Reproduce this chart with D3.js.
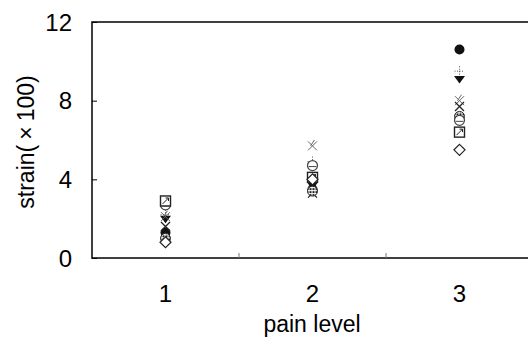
<!DOCTYPE html>
<html><head><meta charset="utf-8">
<script src="https://cdn.jsdelivr.net/npm/d3@7"></script>
<style>body{margin:0;background:#fff}svg{display:block}text{font-family:"Liberation Sans",Arial,sans-serif}</style>
</head><body><svg id="c" width="528" height="338"></svg>
<script>
const levels = ["1","2","3"];
const yTicks = [0,4,8,12];
const sFilledCircle = [1.3, 3.5, 10.6];
const sDotPlus      = [2.2, 4.9, 9.5];
const sTriDown      = [2.0, 3.7, 9.1];
const sCrossLight   = [2.1, 5.7, 8.0];
const sCrossDark    = [1.6, 3.3, 7.7];
const sHatchCircle  = [1.0, 3.4, 7.2];
const sOpenCircle   = [2.7, 4.7, 7.0];
const sSquareDiag   = [2.9, 4.1, 6.4];
const sDiamond      = [0.8, 4.0, 5.5];
const series = [
  {v:sFilledCircle, m:"fcircle"},
  {v:sDotPlus, m:"dotplus"},
  {v:sTriDown, m:"tridown"},
  {v:sCrossLight, m:"xlight"},
  {v:sCrossDark, m:"xdark"},
  {v:sHatchCircle, m:"hcircle"},
  {v:sOpenCircle, m:"ocircle"},
  {v:sSquareDiag, m:"sqx"},
  {v:sDiamond, m:"diamond"}
];
const svg = d3.select("#c");
const L=92, T=22, R=533, B=258;
const x = d3.scaleBand().domain(levels).range([L,R]);
const y = d3.scaleLinear().domain([0,12]).range([B,T]);
const defs = svg.append("defs");
const pat = defs.append("pattern").attr("id","hatch").attr("width",3).attr("height",3).attr("patternUnits","userSpaceOnUse");
pat.append("rect").attr("width",3).attr("height",3).attr("fill","#fff");
pat.append("rect").attr("width",2).attr("height",2).attr("fill","#222");

svg.append("rect").attr("x",L).attr("y",T).attr("width",R-L).attr("height",B-T).attr("fill","none").attr("stroke","#000").attr("stroke-width",1.5);
svg.append("g").attr("transform",`translate(${L},0)`).call(d3.axisRight(y).tickValues(yTicks).tickSize(5).tickFormat(""))
  .call(g=>g.select(".domain").remove()).selectAll("line").attr("stroke","#000");
yTicks.forEach(t=>svg.append("text").attr("x",72).attr("y",y(t)).attr("dy","0.36em").attr("text-anchor","end").attr("font-size",24).text(t));
[levels[1],levels[2]].forEach(l=>svg.append("line").attr("x1",x(l)).attr("x2",x(l)).attr("y1",B).attr("y2",B-5).attr("stroke","#777"));
levels.forEach(l=>svg.append("text").attr("x",x(l)+x.bandwidth()/2).attr("y",302).attr("text-anchor","middle").attr("font-size",24).text(l));
svg.append("text").attr("x",312).attr("y",332).attr("text-anchor","middle").attr("font-size",23).text("pain level");
const yl = svg.append("text").attr("transform","translate(34,142) rotate(-90)").attr("text-anchor","middle").attr("font-size",23);
yl.append("tspan").text("strain(");
yl.append("tspan").attr("dx",5).text("\u00d7");
yl.append("tspan").attr("dx",5).text("100)");

function draw(g, m){
  const r=5;
  if(m==="fcircle") g.append("circle").attr("r",r).attr("fill","#111");
  else if(m==="hcircle") g.append("circle").attr("r",r).attr("fill","url(#hatch)").attr("stroke","#333");
  else if(m==="ocircle"){ g.append("circle").attr("r",r).attr("fill","#fff").attr("stroke","#444").attr("stroke-width",1.2); g.append("path").attr("d","M-4,1 L4,1").attr("stroke","#444");}
  else if(m==="tridown") g.append("path").attr("d","M-5.5,-3 L5.5,-3 L0,4.5 Z").attr("fill","#111");
  else if(m==="xlight") g.append("path").attr("d","M-4.5,-4.5L4.5,4.5M-4.5,4.5L4.5,-4.5M2,-6L-2,0").attr("stroke","#666").attr("fill","none");
  else if(m==="xdark") g.append("path").attr("d","M-4.5,-4.5L4.5,4.5M-4.5,4.5L4.5,-4.5").attr("stroke","#222").attr("stroke-width",1.3).attr("fill","none");
  else if(m==="dotplus") g.append("path").attr("d","M-5,0L5,0M0,-5L0,5").attr("stroke","#555").attr("stroke-dasharray","1,1.5").attr("fill","none");
  else if(m==="sqx"){ g.append("rect").attr("x",-5).attr("y",-5).attr("width",10).attr("height",10).attr("fill","#fff").attr("stroke","#222").attr("stroke-width",1.4); g.append("path").attr("d","M-3,3L3,-3M0,-3L3,-3L3,0").attr("stroke","#222").attr("fill","none");}
  else if(m==="diamond") g.append("path").attr("d","M0,-5.5L5.5,0L0,5.5L-5.5,0Z").attr("fill","#fff").attr("stroke","#222").attr("stroke-width",1.2);
}
series.forEach(s=>{
  s.v.forEach((v,i)=>{
    const g=svg.append("g").attr("transform",`translate(${x(levels[i])+x.bandwidth()/2},${y(v)})`);
    draw(g,s.m);
  });
});
</script></body></html>
